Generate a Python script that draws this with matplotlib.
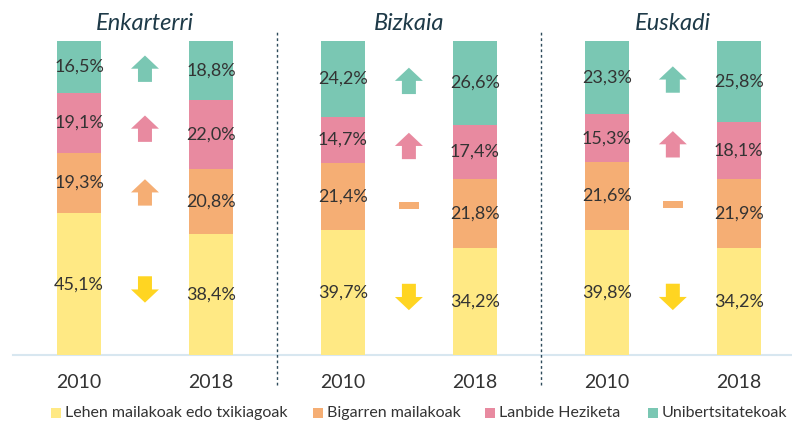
import matplotlib.pyplot as plt
from matplotlib.patches import Polygon, Rectangle

plt.rcParams['font.family'] = ['Lato', 'DejaVu Sans']

regions = ['Enkarterri', 'Bizkaia', 'Euskadi']
years = ['2010', '2018']
levels = ['Lehen mailakoak edo txikiagoak', 'Bigarren mailakoak', 'Lanbide Heziketa', 'Unibertsitatekoak']

# share of each level, one list per region: [2010, 2018]
lehen = [[45.1, 38.4], [39.7, 34.2], [39.8, 34.2]]
bigarren = [[19.3, 20.8], [21.4, 21.8], [21.6, 21.9]]
lanbide = [[19.1, 22.0], [14.7, 17.4], [15.3, 18.1]]
unib = [[16.5, 18.8], [24.2, 26.6], [23.3, 25.8]]

# change direction shown by the arrows (1 up, -1 down, 0 flat)
trend = {
    'Enkarterri': [-1, 1, 1, 1],
    'Bizkaia': [-1, 0, 1, 1],
    'Euskadi': [-1, 0, 1, 1],
}

bar_colors = ['#FFE984', '#F5AE74', '#E88AA0', '#7AC7B3']
arrow_colors = ['#FFD522', '#F5AE74', '#E88AA0', '#7AC7B3']
txt = '#333333'

fig = plt.figure(figsize=(7.92, 4.23), dpi=100)
ax = fig.add_axes([13 / 792, 68 / 423, 779 / 792, 314 / 423])
ax.set_xlim(-0.5, 5.403)
ax.set_ylim(0, 100)
ax.axis('off')

bw = 0.333
series = [lehen, bigarren, lanbide, unib]


def arrow(x, y, d, color):
    w, h = 0.106, 4.2
    sw = 0.053
    if d == 0:
        ax.add_patch(Rectangle((x - 0.075, y - 1.1), 0.15, 2.2, color=color, lw=0))
        return
    s = d
    pts = [(x - w, y), (x, y + s * h), (x + w, y), (x + sw, y), (x + sw, y - s * h),
           (x - sw, y - s * h), (x - sw, y)]
    ax.add_patch(Polygon(pts, closed=True, color=color, lw=0))


for g, reg in enumerate(regions):
    centers = []
    for k, yr in enumerate(years):
        x = 2 * g + k
        bottom = 0
        cs = []
        for j, s in enumerate(series):
            v = s[g][k]
            ax.bar(x, v, bw, bottom=bottom, color=bar_colors[j], lw=0)
            ax.text(x, bottom + v / 2, f'{v:.1f}%'.replace('.', ','), ha='center', va='center',
                    fontsize=13, color=txt)
            cs.append(bottom + v / 2)
            bottom += v
        centers.append(cs)
        ax.text(x, -8.9, yr, ha='center', va='center', fontsize=14, color=txt)
    xm = 2 * g + 0.5
    for j in range(4):
        ym = (centers[0][j] + centers[1][j]) / 2
        arrow(xm, ym, trend[reg][j], arrow_colors[j])
    ax.text(xm, 105.5, reg, ha='center', va='center', fontsize=17, style='italic',
            color='#1E3A48')
    if g < 2:
        ax.plot([xm + 1, xm + 1], [-9.6, 103.5], ls=(0, (2, 2)), lw=1, color='#2D4A5A',
                clip_on=False)

ax.plot([-0.5, 5.403], [0, 0], color='#D8E7F0', lw=1.5, clip_on=False, zorder=0)

# legend laid out by hand to follow the reference spacing
leg_x = [51, 313, 485, 648]
for j, lab in enumerate(levels):
    fig.patches.append(Rectangle((leg_x[j] / 792, 5 / 423), 10 / 792, 10 / 423,
                                 transform=fig.transFigure, color=bar_colors[j], lw=0))
    fig.text((leg_x[j] + 14) / 792, 10 / 423, lab, ha='left', va='center', fontsize=11.5,
             color=txt)

fig.savefig('out.png', dpi=100)
